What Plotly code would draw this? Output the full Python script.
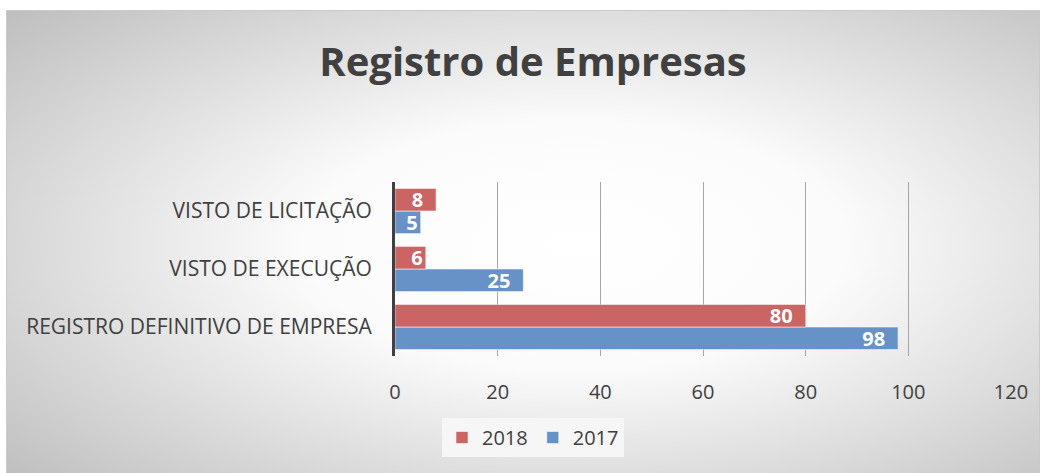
import plotly.graph_objects as go
import urllib.parse

categories = ["REGISTRO DEFINITIVO DE EMPRESA", "VISTO DE EXECUÇÃO", "VISTO DE LICITAÇÃO"]
values_2017 = [98, 25, 5]
values_2018 = [80, 6, 8]
x_ticks = [0, 20, 40, 60, 80, 100, 120]

W, H = 1044, 473
ML, MR, MT, MB = 395, 33, 182, 117
pw, ph = W - ML - MR, H - MT - MB

svg = f'''<svg xmlns="http://www.w3.org/2000/svg" width="{W}" height="{H}" viewBox="0 0 {W} {H}" preserveAspectRatio="none">
<defs><radialGradient id="g" cx="0.55" cy="0.5" r="0.75">
<stop offset="0" stop-color="#ffffff"/><stop offset="0.35" stop-color="#fbfbfb"/>
<stop offset="1" stop-color="#bdbdbd"/></radialGradient></defs>
<rect x="0" y="0" width="{W}" height="{H}" fill="#ffffff"/>
<rect x="6.5" y="10.5" width="1033" height="470" fill="url(#g)" stroke="#cacaca" stroke-width="1"/>
</svg>'''
src = "data:image/svg+xml;charset=utf-8," + urllib.parse.quote(svg)

font = "Open Sans, Noto Sans, sans-serif"
pad = "\u2002"


def templates(vals):
    # extra right padding only where the label has room inside the bar
    return ["%{x}" + (pad if v * pw / 120 > 35 else "") for v in vals]


fig = go.Figure()
fig.add_trace(go.Bar(
    y=categories, x=values_2017, name="2017", orientation="h",
    marker=dict(color="#6792c8", line=dict(color="rgba(255,255,255,0.55)", width=1)),
    texttemplate=templates(values_2017), textposition="inside", insidetextanchor="end", textangle=0,
    constraintext="none",
    textfont=dict(color="white", size=20, family=font, weight="bold"),
))
fig.add_trace(go.Bar(
    y=categories, x=values_2018, name="2018", orientation="h",
    marker=dict(color="#cb6462", line=dict(color="rgba(255,255,255,0.55)", width=1)),
    texttemplate=templates(values_2018), textposition="inside", insidetextanchor="end", textangle=0,
    constraintext="none",
    textfont=dict(color="white", size=20, family=font, weight="bold"),
))

fig.update_layout(
    width=W, height=H,
    margin=dict(l=ML, r=MR, t=MT, b=MB),
    paper_bgcolor="white", plot_bgcolor="rgba(0,0,0,0)",
    barmode="group", bargap=0.22, bargroupgap=0.0,
    title=dict(text="<b>Registro de Empresas</b>", x=533 / W, xref="container", xanchor="center",
               y=1 - 62 / H, yref="container", yanchor="middle",
               font=dict(family=font, size=40, color="#404040")),
    xaxis=dict(range=[0, 120], tickvals=x_ticks, showgrid=True, gridcolor="#a6a6a6", gridwidth=1,
               zeroline=False, showline=False, ticks="", ticklabelstandoff=22,
               tickfont=dict(family=font, size=20, color="#404040"), fixedrange=True),
    yaxis=dict(showline=True, linecolor="#404040", linewidth=3, ticks="", ticklabelstandoff=16,
               tickfont=dict(family=font, size=21, color="#404040"), fixedrange=True),
    legend=dict(orientation="h", traceorder="reversed", x=(533 - ML) / pw, xanchor="center",
                y=(H - MB - 418) / ph, yanchor="top", bgcolor="rgba(247,247,247,0.95)",
                font=dict(family=font, size=20, color="#404040"), itemwidth=30),
    showlegend=True,
    images=[dict(source=src, xref="paper", yref="paper", x=-ML / pw, y=1 + MT / ph,
                 sizex=W / pw, sizey=H / ph, sizing="stretch", xanchor="left", yanchor="top",
                 layer="below")],
)

fig.write_html("out.html", config={"displayModeBar": False},
               post_script="document.body.style.margin='0';")
